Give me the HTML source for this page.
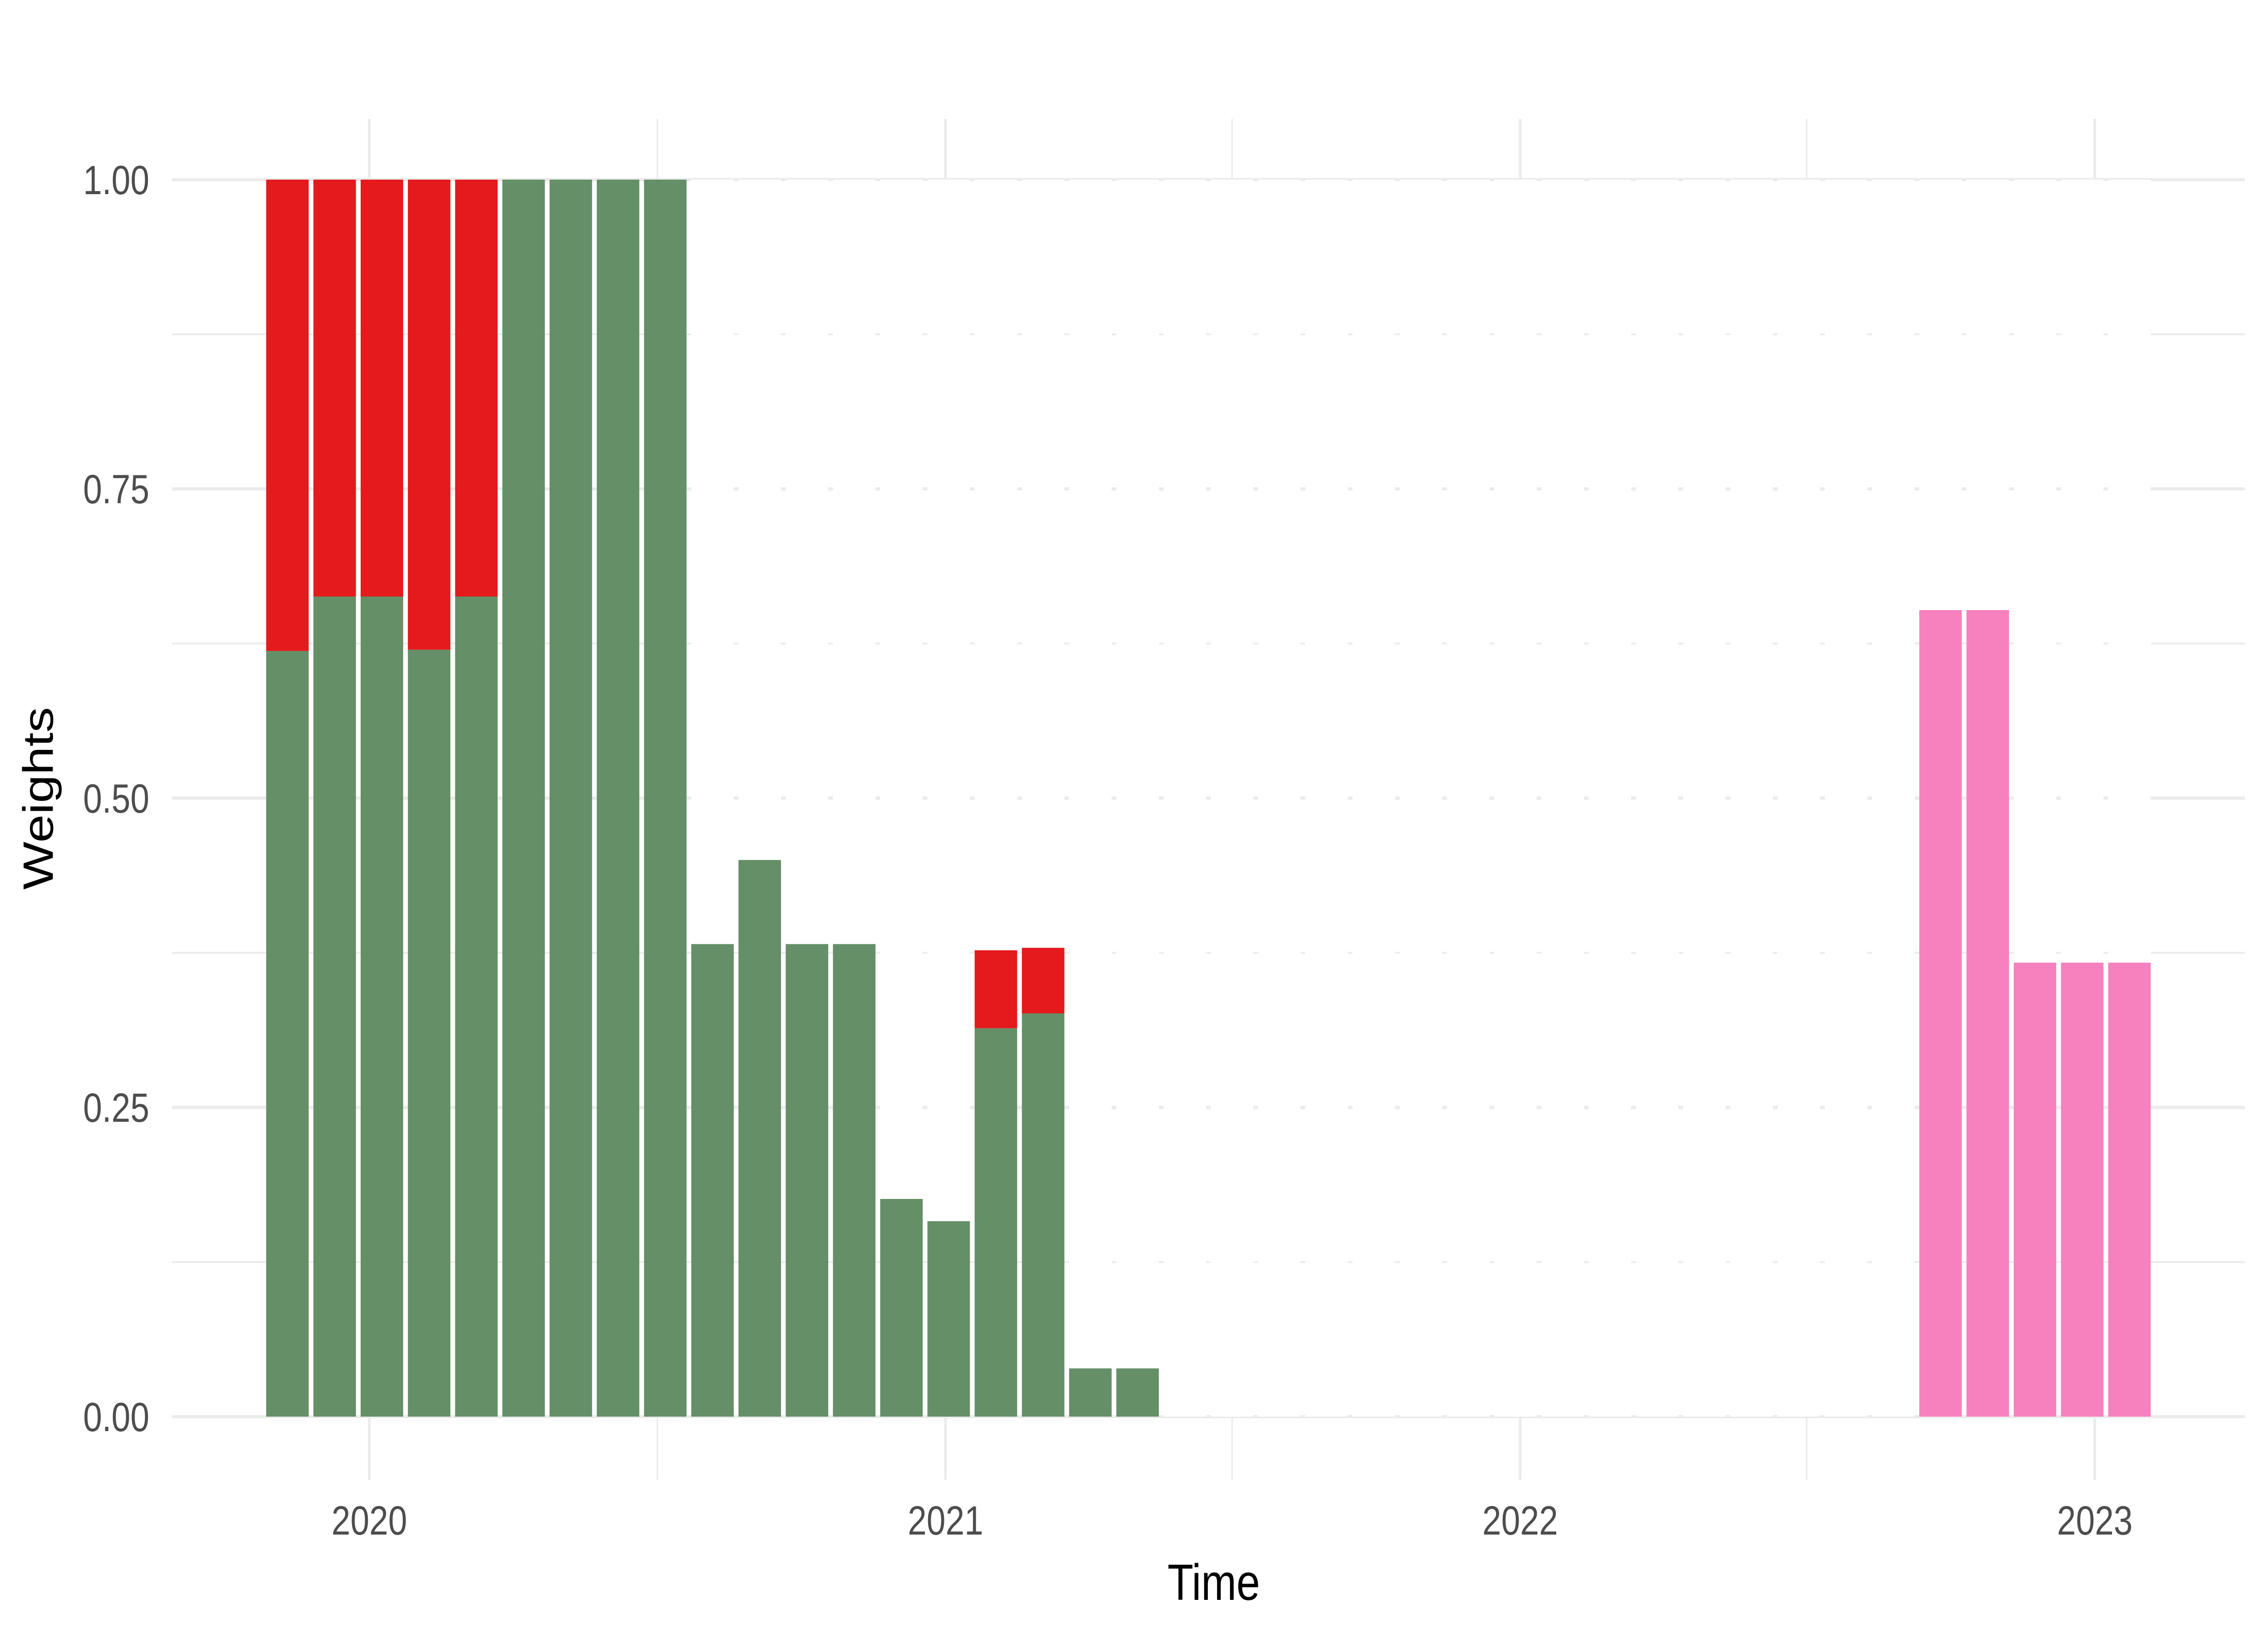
<!DOCTYPE html>
<html><head><meta charset="utf-8"><style>
html,body{margin:0;padding:0;background:#fff;width:100%;height:100%;overflow:hidden;}
svg{display:block;width:100vw;height:100vh;}
text{font-family:"Liberation Sans",sans-serif;}
</style></head><body>
<svg id="chart" viewBox="0 0 6000 3600" preserveAspectRatio="none" xmlns="http://www.w3.org/2000/svg">
<g id="grid"></g>
<g id="bars"></g>
<g id="axes"></g>
<text x="3211" y="3527" font-size="112" text-anchor="middle" fill="#000">Time</text>
<text x="0" y="0" font-size="112" text-anchor="middle" fill="#000" transform="translate(140,1760) rotate(-90)">Weights</text>
</svg>
<script>
const dates = ["2019-11-10","2019-12-10","2020-01-09","2020-02-08","2020-03-09","2020-04-08","2020-05-08","2020-06-07","2020-07-07","2020-08-06","2020-09-05","2020-10-05","2020-11-04","2020-12-04","2021-01-03","2021-02-02","2021-03-04","2021-04-03","2021-05-03","2021-06-02","2021-07-02","2021-08-01","2021-08-31","2021-09-30","2021-10-30","2021-11-29","2021-12-29","2022-01-28","2022-02-27","2022-03-29","2022-04-28","2022-05-28","2022-06-27","2022-07-27","2022-08-26","2022-09-25","2022-10-25","2022-11-24","2022-12-24","2023-01-23"];
const greenVals = [0.619,0.663,0.663,0.620,0.663,1,1,1,1,0.382,0.45,0.382,0.382,0.176,0.158,0.314,0.326,0.039,0.039,0,0,0,0,0,0,0,0,0,0,0,0,0,0,0,0,0,0,0,0,0];
const redVals = [0.381,0.337,0.337,0.380,0.337,0,0,0,0,0,0,0,0,0,0,0.063,0.053,0,0,0,0,0,0,0,0,0,0,0,0,0,0,0,0,0,0,0,0,0,0,0];
const pinkVals = [0,0,0,0,0,0,0,0,0,0,0,0,0,0,0,0,0,0,0,0,0,0,0,0,0,0,0,0,0,0,0,0,0,0,0,0.652,0.652,0.367,0.367,0.367];
const yTicks = [0,0.25,0.5,0.75,1];
const yTickLabels = ["0.00","0.25","0.50","0.75","1.00"];
const yMinor = [0.125,0.375,0.625,0.875];
const xTicks = ["2020-01-01","2021-01-01","2022-01-01","2023-01-01"];
const xTickLabels = ["2020","2021","2022","2023"];
const xMinor = ["2020-07-02","2021-07-02","2022-07-02"];

const NS="http://www.w3.org/2000/svg";
const origin=Date.UTC(2020,0,1);
function days(s){const p=s.split("-");return (Date.UTC(+p[0],+p[1]-1,+p[2])-origin)/86400000;}
function xs(s){return 977+days(s)*4.165;}
function ys(v){return 3123-v*2727;}
const panelL=455,panelR=5939,panelT=262,panelB=3262;
const barW=27*4.165;
function mk(tag,attrs,parent){const e=document.createElementNS(NS,tag);for(const k in attrs)e.setAttribute(k,attrs[k]);parent.appendChild(e);return e;}
const grid=document.getElementById("grid"),bars=document.getElementById("bars"),axes=document.getElementById("axes");
yMinor.forEach(v=>{const l=mk("line",{x1:panelL,x2:panelR,y1:ys(v),y2:ys(v),stroke:"#ebebeb","stroke-width":4},grid);

});
xMinor.forEach(d=>{const l=mk("line",{x1:xs(d),x2:xs(d),y1:panelT,y2:panelB,stroke:"#ebebeb","stroke-width":4},grid);

});
yTicks.forEach((v,i)=>{const l=mk("line",{x1:panelL,x2:panelR,y1:ys(v),y2:ys(v),stroke:"#ebebeb","stroke-width":7},grid);


const t=mk("text",{x:395,y:ys(v)+32,"font-size":90,"text-anchor":"end",fill:"#4d4d4d"},axes);t.textContent=yTickLabels[i];

});
xTicks.forEach((d,i)=>{const l=mk("line",{x1:xs(d),x2:xs(d),y1:panelT,y2:panelB,stroke:"#ebebeb","stroke-width":7},grid);


const t=mk("text",{x:xs(d),y:3383,"font-size":90,"text-anchor":"middle",fill:"#4d4d4d"},axes);t.textContent=xTickLabels[i];

});
dates.forEach((d,i)=>{const cx=xs(d),x0=cx-barW/2;
const w=mk("rect",{x:x0,y:ys(1),width:barW,height:ys(0)-ys(1),fill:"#ffffff"},bars);


let base=0;
[[greenVals[i],"#658f67","bar-green"],[redVals[i],"#e41a1c","bar-red"],[pinkVals[i],"#f781bf","bar-pink"]].forEach(s=>{
 if(s[0]>0){const r=mk("rect",{x:x0,y:ys(base+s[0]),width:barW,height:ys(base)-ys(base+s[0]),fill:s[1]},bars);
 
 
 base+=s[0];}
});});
</script>
</body></html>
